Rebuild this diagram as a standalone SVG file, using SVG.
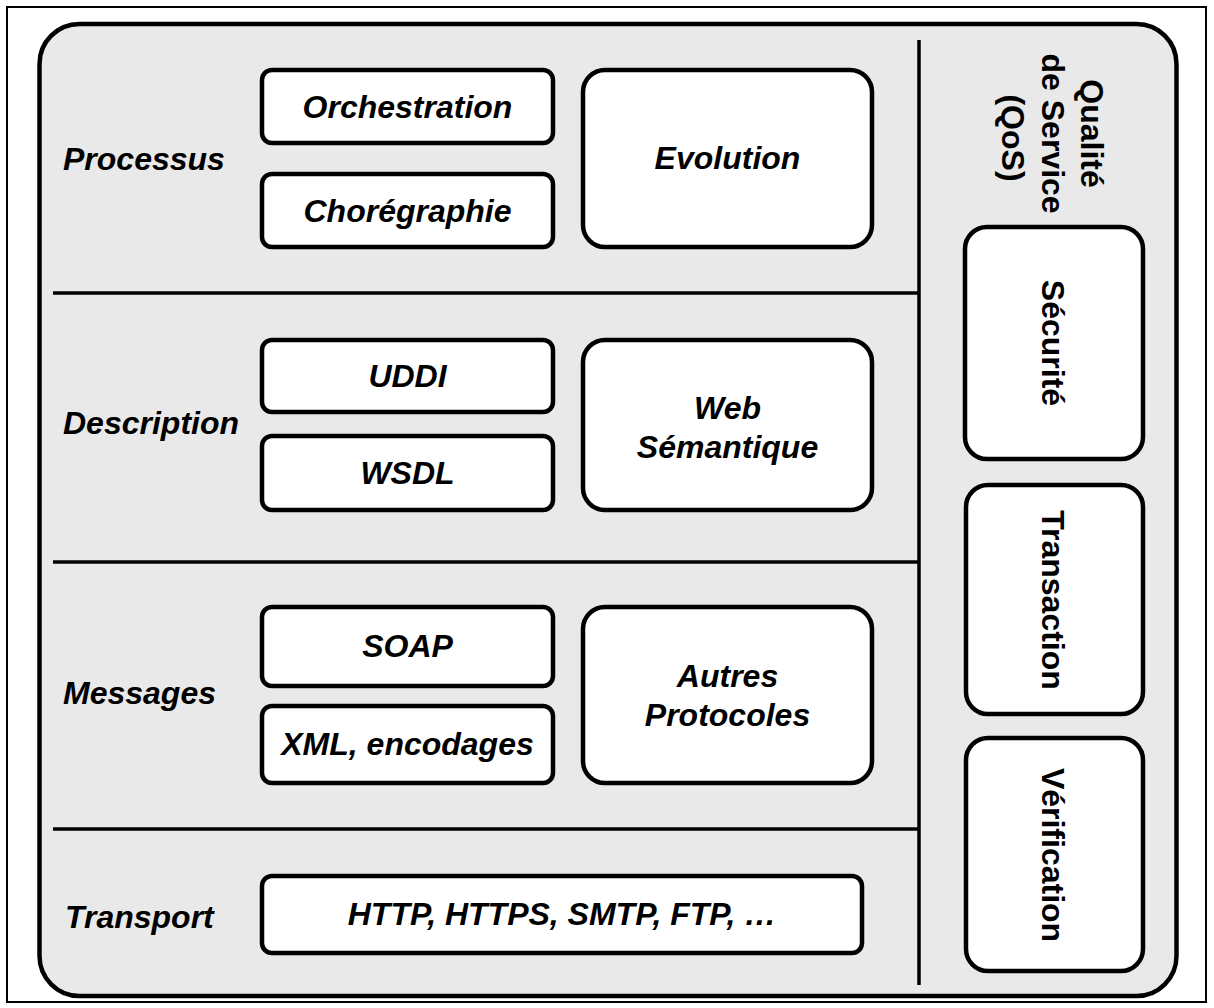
<svg xmlns="http://www.w3.org/2000/svg" width="1214" height="1008" viewBox="0 0 1214 1008">
  <style>
    .frame { fill: #ffffff; stroke: #000000; stroke-width: 2; }
    .panel { fill: #e9e9e9; stroke: #000000; stroke-width: 4.5; }
    .sep { stroke: #000000; stroke-width: 3.5; fill: none; }
    .box { fill: #ffffff; stroke: #000000; stroke-width: 4.5; }
    .lbl { font-family: "Liberation Sans", Arial, Helvetica, sans-serif; font-weight: bold; font-style: italic; font-size: 32px; fill: #000000; }
    .mid { text-anchor: middle; }
    .vert { font-style: normal; }
  </style>

  <!-- page frame -->
  <rect class="frame" x="7" y="7" width="1199" height="995"/>

  <!-- main panel -->
  <rect id="panel" class="panel" x="39.5" y="24" width="1137" height="972" rx="40" ry="40"/>

  <!-- layer separators -->
  <g id="connectors">
    <line class="sep" x1="919" y1="40" x2="919" y2="985"/>
    <line class="sep" x1="53" y1="293" x2="919" y2="293"/>
    <line class="sep" x1="53" y1="562" x2="919" y2="562"/>
    <line class="sep" x1="53" y1="829" x2="919" y2="829"/>
  </g>

  <!-- layer titles -->
  <g id="layer-processus"><text class="lbl" x="63" y="170">Processus</text></g>
  <g id="layer-description"><text class="lbl" x="63" y="434">Description</text></g>
  <g id="layer-messages"><text class="lbl" x="63" y="704">Messages</text></g>
  <g id="layer-transport"><text class="lbl" x="65" y="928">Transport</text></g>

  <!-- Processus -->
  <g id="orchestration">
    <rect class="box" x="262" y="70" width="291" height="73" rx="10"/>
    <text class="lbl mid" x="407.5" y="118">Orchestration</text>
  </g>
  <g id="choregraphie">
    <rect class="box" x="262" y="174" width="291" height="73" rx="10"/>
    <text class="lbl mid" x="407.5" y="222">Chorégraphie</text>
  </g>
  <g id="evolution">
    <rect class="box" x="583" y="70" width="289" height="177" rx="22"/>
    <text class="lbl mid" x="727.5" y="169">Evolution</text>
  </g>

  <!-- Description -->
  <g id="uddi">
    <rect class="box" x="262" y="340" width="291" height="72" rx="10"/>
    <text class="lbl mid" x="407.5" y="387">UDDI</text>
  </g>
  <g id="wsdl">
    <rect class="box" x="262" y="436" width="291" height="74" rx="10"/>
    <text class="lbl mid" x="407.5" y="484">WSDL</text>
  </g>
  <g id="web-semantique">
    <rect class="box" x="583" y="340" width="289" height="170" rx="22"/>
    <text class="lbl mid" x="727.5" y="419">Web</text>
    <text class="lbl mid" x="727.5" y="458">Sémantique</text>
  </g>

  <!-- Messages -->
  <g id="soap">
    <rect class="box" x="262" y="607" width="291" height="79" rx="10"/>
    <text class="lbl mid" x="407.5" y="657">SOAP</text>
  </g>
  <g id="xml">
    <rect class="box" x="262" y="706" width="291" height="77" rx="10"/>
    <text class="lbl mid" x="407.5" y="755">XML, encodages</text>
  </g>
  <g id="autres-protocoles">
    <rect class="box" x="583" y="607" width="289" height="176" rx="22"/>
    <text class="lbl mid" x="727.5" y="687">Autres</text>
    <text class="lbl mid" x="727.5" y="726">Protocoles</text>
  </g>

  <!-- Transport -->
  <g id="protocoles-transport">
    <rect class="box" x="262" y="876" width="600" height="77" rx="10"/>
    <text class="lbl mid" x="562" y="925">HTTP, HTTPS, SMTP, FTP, …</text>
  </g>

  <!-- Qualité de Service column -->
  <g id="qos-title">
    <text class="lbl mid vert" transform="translate(1081 138) rotate(90)">
      <tspan x="0" y="0">Qualité</tspan>
      <tspan x="0" y="39.5">de Service</tspan>
      <tspan x="0" y="79">(QoS)</tspan>
    </text>
  </g>
  <g id="securite">
    <rect class="box" x="965" y="227" width="178" height="232" rx="22"/>
    <text class="lbl mid vert" transform="translate(1042 343) rotate(90)">Sécurité</text>
  </g>
  <g id="transaction">
    <rect class="box" x="966" y="485" width="177" height="229" rx="22"/>
    <text class="lbl mid vert" transform="translate(1042 600) rotate(90)">Transaction</text>
  </g>
  <g id="verification">
    <rect class="box" x="966" y="738" width="177" height="233" rx="22"/>
    <text class="lbl mid vert" transform="translate(1042 855) rotate(90)">Vérification</text>
  </g>
</svg>
